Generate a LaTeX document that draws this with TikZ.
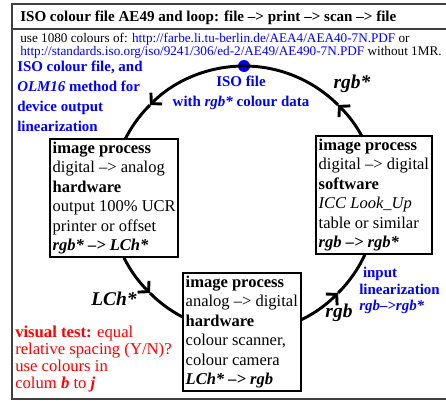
\documentclass[tikz,border=0pt]{standalone}
\usepackage{fontspec}
\setmainfont{Liberation Serif}
\usetikzlibrary{arrows.meta}

\tikzset{
  procbox/.style={draw, line width=1.5pt, fill=white, align=left, inner sep=2pt,
    anchor=north west, font=\fontsize{12.4}{14.6}\selectfont},
  loopline/.style={line width=2.2pt},
  looparrow/.style={loopline, -{Straight Barb[length=5.5pt,width=12pt]}},
  isodot/.style={circle, fill=blue, inner sep=0pt, minimum size=9pt},
  biglabel/.style={inner sep=0pt, font=\fontsize{14.6}{16}\selectfont\bfseries\itshape},
  bluetext/.style={text=blue, inner sep=0pt, align=left, font=\fontsize{11.2}{15}\selectfont\bfseries},
  redtext/.style={text=red, inner sep=0pt, align=left, font=\fontsize{12.5}{12.6}\selectfont},
}

\begin{document}
\begin{tikzpicture}[x=0.75pt,y=0.75pt,yscale=-1,xscale=1]
\useasboundingbox (0,0) rectangle (446,400);

% frame and heading
\draw [black!75, line width=0.9pt] (12,4) rectangle (452,399);
\draw [black!75, line width=0.9pt] (12,29) -- (452,29);
\node [anchor=base west, inner sep=0pt, font=\fontsize{11.3}{13}\selectfont\bfseries] (title) at (20,21)
  {ISO colour file AE49 and loop: file --> print --> scan --> file};
\node [anchor=north west, inner sep=0pt, align=left, font=\fontsize{9.9}{9.8}\selectfont] (urls) at (20,33)
  {use 1080 colours of: \textcolor{blue}{http://farbe.li.tu-berlin.de/AEA4/AEA40-7N.PDF} or\\
   \textcolor{blue}{http://standards.iso.org/iso/9241/306/ed-2/AE49/AE490-7N.PDF} without 1MR.};

% the loop
\coordinate (ctr) at (244,199);
\path (ctr) ++(270:133) node [isodot] (dot) {};
\draw [looparrow] (dot.center) arc [start angle=270, end angle=225, radius=133] coordinate (p1);
\draw [looparrow] (p1) arc [start angle=225, end angle=135, radius=133] coordinate (p2);
\draw [looparrow] (p2) arc [start angle=135, end angle=45, radius=133] coordinate (p3);
\draw [looparrow] (p3) arc [start angle=45, end angle=-45, radius=133] coordinate (p4);
\draw [loopline] (p4) arc [start angle=-45, end angle=-90, radius=133];

% process boxes
\node [procbox] (lbox) at (49,138)
  {\textbf{image process}\\ digital --> analog\\ \textbf{hardware}\\ output 100\% UCR\\ printer or offset\\ \textbf{\textit{rgb* --> LCh*}}};
\node [procbox] (rbox) at (315,135)
  {\textbf{image process}\\ digital --> digital\\ \textbf{software}\\ \textit{ICC Look\_Up}\\ table or similar\\ \textbf{\textit{rgb --> rgb*}}};
\node [procbox] (bbox) at (182,272)
  {\textbf{image process}\\ analog --> digital\\ \textbf{hardware}\\ colour scanner,\\ colour camera\\ \textbf{\textit{LCh* --> rgb}}};

% labels
\node [bluetext, anchor=north west] (olm) at (17,61)
  {ISO colour file, and\\ \textit{OLM16} method for\\ device output\\ linearization};
\node [bluetext, align=center] (isofile) at (241,93) {ISO file\\ with \textit{rgb*} colour data};
\node [biglabel] (rgbstar) at (352,84) {rgb*};
\node [biglabel] (lch) at (114,299) {LCh*};
\node [biglabel] (rgblab) at (339,313) {rgb};
\node [bluetext, anchor=north west, font=\fontsize{11.2}{12.5}\selectfont\bfseries] (inlin) at (359,267)
  {\ input\\ linearization\\ \textit{rgb-->rgb*}};
\node [redtext, anchor=north west] (vtest) at (15,326)
  {\textbf{visual test:} equal\\ relative spacing (Y/N)?\\ use colours in\\ colum \textbf{\textit{b}} to \textbf{\textit{j}}};

\end{tikzpicture}
\end{document}
